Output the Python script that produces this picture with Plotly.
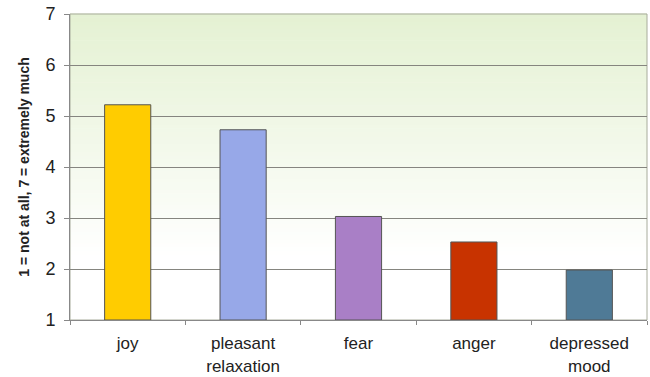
import plotly.graph_objects as go

# Mean ratings per emotion (1 = not at all, 7 = extremely much)
categories = ["joy", "pleasant<br>relaxation", "fear", "anger", "depressed<br>mood"]
ratings = [5.22, 4.73, 3.03, 2.53, 1.98]
bar_colors = ["#FFCC00", "#97A8E8", "#A97FC6", "#C83300", "#4F7A96"]
y_ticks = [1, 2, 3, 4, 5, 6, 7]

fig = go.Figure()
fig.add_trace(go.Bar(
    x=categories,
    y=[r - 1 for r in ratings],
    base=1,
    width=0.4,
    marker=dict(color=bar_colors, line=dict(color="#555555", width=1)),
    hoverinfo="skip",
))

# Vertical gradient background: pale green at top fading to white lower down
def blend(c1, c2, t):
    return "rgb({},{},{})".format(*[round(a + (b - a) * t) for a, b in zip(c1, c2)])

top = (228, 241, 210)
white = (255, 255, 255)
n = 80
shapes = []
for i in range(n):
    y0 = i / n
    y1 = (i + 1) / n
    t = min(1.0, max(0.0, (y0 - 0.2) / 0.8))
    shapes.append(dict(
        type="rect", xref="paper", yref="paper",
        x0=0, x1=1, y0=y0, y1=y1 + 0.002,
        fillcolor=blend(white, top, t), line=dict(width=0), layer="below",
    ))
# plot frame
shapes.append(dict(type="rect", xref="paper", yref="paper", x0=0, x1=1, y0=0, y1=1,
                   line=dict(color="#A8AC9C", width=1), layer="below"))

fig.update_layout(
    width=650, height=377,
    margin=dict(l=70, r=3, t=14, b=57),
    paper_bgcolor="white",
    plot_bgcolor="rgba(0,0,0,0)",
    showlegend=False,
    shapes=shapes,
    font=dict(family="Liberation Sans, Arial, sans-serif", color="#222222"),
    bargap=0.6,
)
fig.update_xaxes(
    automargin=False,
    showgrid=False,
    showline=True, linecolor="#888888", linewidth=1,
    ticks="outside", tickson="boundaries", ticklen=4, tickcolor="#888888",
    tickfont=dict(size=17, color="#222222"),
    ticklabelstandoff=8,
)
fig.update_yaxes(
    automargin=False,
    range=[1, 7],
    tickvals=y_ticks,
    showgrid=True, gridcolor="#85857F", gridwidth=1,
    showline=True, linecolor="#888888", linewidth=1,
    ticks="outside", ticklen=5, tickcolor="#888888",
    tickfont=dict(size=18, color="#222222"),
    ticklabelstandoff=5,
    zeroline=False,
    title=dict(text="<b>1 = not at all, 7 = extremely much</b>",
               font=dict(size=14, color="#222222"), standoff=12),
)

fig.write_html("out.html")
